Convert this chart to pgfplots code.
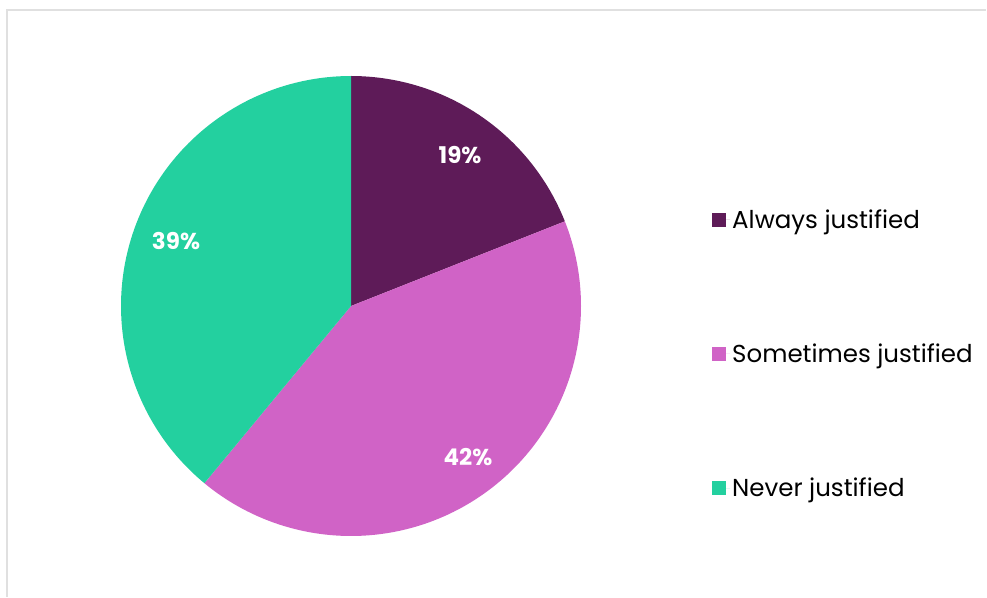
\documentclass[border=0pt]{standalone}
\usepackage{pgfplots}
\pgfplotsset{compat=1.18}
\usepackage{fontspec}
\setmainfont{Poppins}
\definecolor{cAlw}{HTML}{5E1B58}
\definecolor{cSom}{HTML}{D063C6}
\definecolor{cNev}{HTML}{23D09F}
\definecolor{frame}{HTML}{E0E0E0}
\begin{document}
\begin{tikzpicture}
% shares (percent)
\def\vA{19}\def\vB{42}\def\vC{39}
\pgfmathsetmacro{\aS}{90}
\pgfmathsetmacro{\aE}{90-3.6*\vA}
\pgfmathsetmacro{\bE}{\aE-3.6*\vB}
\pgfmathsetmacro{\cE}{\bE-3.6*\vC}
\begin{axis}[
  width=987pt, height=597pt, scale only axis,
  xmin=0, xmax=987, ymin=0, ymax=597,
  hide axis, clip=false,
  legend style={at={(axis cs:709,243)}, anchor=west, draw=none, fill=none,
    font=\fontsize{24.5}{26}\selectfont, row sep=110pt,
    cells={anchor=west}},
  legend image code/.code={\fill[#1] (0pt,-7pt) rectangle (14pt,7pt);
    \path (0pt,0pt) -- (18pt,0pt);},
]
\addplot[fill=cAlw, draw=none, domain=\aE:\aS, samples=80]
  ({351+230*cos(x)}, {291+230*sin(x)}) -- (axis cs:351,291) -- cycle;
\addlegendentry{Always justified}
\addplot[fill=cSom, draw=none, domain=\bE:\aE, samples=120]
  ({351+230*cos(x)}, {291+230*sin(x)}) -- (axis cs:351,291) -- cycle;
\addlegendentry{Sometimes justified}
\addplot[fill=cNev, draw=none, domain=\cE:\bE, samples=120]
  ({351+230*cos(x)}, {291+230*sin(x)}) -- (axis cs:351,291) -- cycle;
\addlegendentry{Never justified}
\node[white, font=\fontsize{23}{26}\selectfont\bfseries] at (axis cs:460,442) {\vA\%};
\node[white, font=\fontsize{23}{26}\selectfont\bfseries] at (axis cs:468,140) {\vB\%};
\node[white, font=\fontsize{23}{26}\selectfont\bfseries] at (axis cs:176,356) {\vC\%};
\draw[frame, line width=2pt] (axis cs:7,0) -- (axis cs:7,587) -- (axis cs:986,587);
\end{axis}
\pgfresetboundingbox
\useasboundingbox (0,0) rectangle (987pt,597pt);
\end{tikzpicture}
\end{document}
